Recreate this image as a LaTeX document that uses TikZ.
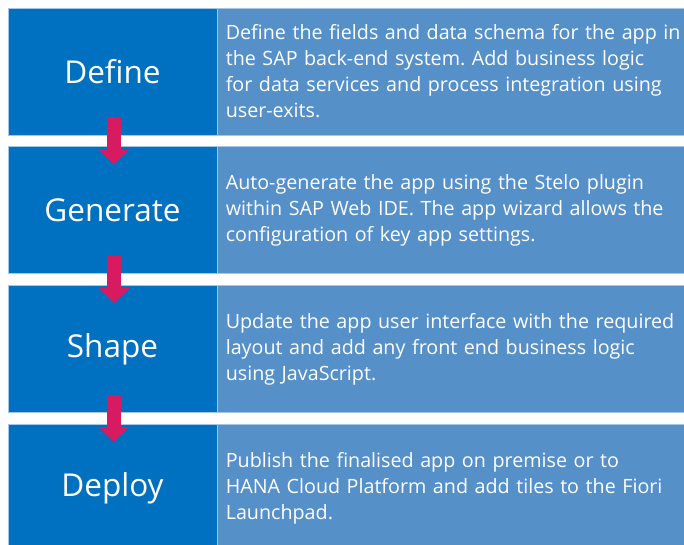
\documentclass[tikz,border=0pt]{standalone}
\usepackage{fontspec}
\setmainfont{Open Sans}
\frenchspacing
\usetikzlibrary{positioning,arrows.meta}
\definecolor{stageblue}{HTML}{0070C0}
\definecolor{descblue}{HTML}{5590C9}
\definecolor{edgeblue}{HTML}{A6C6E6}
\definecolor{steppink}{HTML}{D81B60}

\begin{document}
\begin{tikzpicture}[node distance=11pt,
                    stage/.style={fill=stageblue,draw=edgeblue,line width=0.8pt,text=white,
                      minimum width=209pt,minimum height=127pt,font=\fontsize{31.5}{36}\selectfont},
                    desc/.style={fill=descblue,draw=edgeblue,line width=0.8pt,text=white,
                      minimum height=127pt,text width=470pt,inner xsep=8pt,align=left,
                      font=\fontsize{19.7}{26}\selectfont},
                    steparrow/.style={steppink,line width=14pt,
                      -{Triangle[width=30pt,length=15pt]}}]
  \clip (0,0) rectangle (684pt,-544pt);

  \node[stage] (define)                      at (112.5pt,-71.5pt) {Define};
  \node[stage] (generate) [below=of define]  {Generate};
  \node[stage] (shape)    [below=of generate] {Shape};
  \node[stage] (deploy)   [below=of shape]   {Deploy};

  \node[desc] (defineDesc)   [right=0pt of define]
    {Define the fields and data schema for the app in\\
     the SAP back-end system. Add business logic\\
     for data services and process integration using\\
     user-exits.};
  \node[desc] (generateDesc) [right=0pt of generate]
    {Auto-generate the app using the Stelo plugin\\
     within SAP Web IDE. The app wizard allows the\\
     configuration of key app settings.};
  \node[desc] (shapeDesc)    [right=0pt of shape]
    {Update the app user interface with the required\\
     layout and add any front end business logic\\
     using JavaScript.};
  \node[desc] (deployDesc)   [right=0pt of deploy]
    {Publish the finalised app on premise or to\\
     HANA Cloud Platform and add tiles to the Fiori\\
     Launchpad.};

  \draw[steparrow] ([xshift=1.5pt,yshift=18pt]define.south)   -- ([xshift=1.5pt,yshift=-18pt]generate.north);
  \draw[steparrow] ([xshift=1.5pt,yshift=18pt]generate.south) -- ([xshift=1.5pt,yshift=-18pt]shape.north);
  \draw[steparrow] ([xshift=1.5pt,yshift=18pt]shape.south)    -- ([xshift=1.5pt,yshift=-18pt]deploy.north);
\end{tikzpicture}
\end{document}
